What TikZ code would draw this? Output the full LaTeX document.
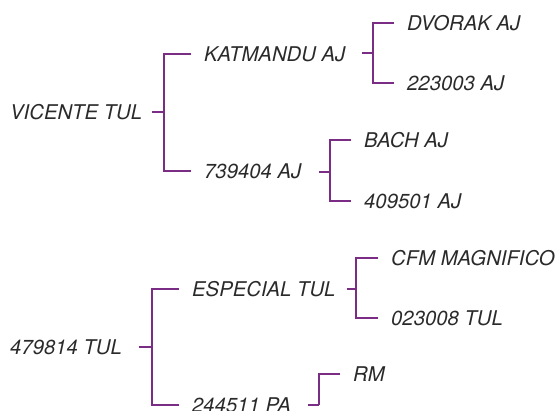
\documentclass[tikz,border=0pt]{standalone}
\usepackage{fontspec}
\setmainfont{TeX Gyre Heros}
\definecolor{brkcol}{HTML}{7B2C85}
\definecolor{txtcol}{HTML}{2A2A2A}
\begin{document}
\begin{tikzpicture}[x=1pt,y=-1pt,
  lbl/.style={anchor=west,inner sep=0pt,text=txtcol,font=\fontsize{20.3}{24}\selectfont\itshape,text height=14.6pt,text depth=0pt},
  brk/.style={draw=brkcol,line width=1.6pt},
  stubline/.style={draw=brkcol,line width=2.6pt}]
\useasboundingbox (0,0) rectangle (558,411);
% nodes
\node[lbl] (vic) at (10,112) {VICENTE TUL};
\node[lbl] (kat) at (204,54) {KATMANDU AJ};
\node[lbl] (n739) at (204,171) {739404 AJ};
\node[lbl] (dvo) at (407,23) {DVORAK AJ};
\node[lbl] (n223) at (407,83) {223003 AJ};
\node[lbl] (bach) at (364,140) {BACH AJ};
\node[lbl] (n409) at (364,201) {409501 AJ};
\node[lbl] (n479) at (10,347) {479814 TUL};
\node[lbl] (esp) at (192,289) {ESPECIAL TUL};
\node[lbl] (n244) at (192,405) {244511 PA};
\node[lbl] (cfm) at (391,258) {CFM MAGNIFICO};
\node[lbl] (n023) at (391,318) {023008 TUL};
\node[lbl] (rm) at (353,374) {RM};
% junctions
\coordinate (j1) at (164,112);
\coordinate (j2) at (373,53);
\coordinate (j3) at (330,172);
\coordinate (j4) at (152,347);
\coordinate (j5) at (356,289);
\coordinate (j6) at (319,405);
% brackets
\draw[brk] ([xshift=-13pt]kat.west) -| (j1) |- ([xshift=-13pt]n739.west);
\draw[stubline] ([xshift=-12pt]j1) -- (j1);
\draw[brk] ([xshift=-13pt]dvo.west) -| (j2) |- ([xshift=-13pt]n223.west);
\draw[stubline] ([xshift=-11pt]j2) -- (j2);
\draw[brk] ([xshift=-13pt]bach.west) -| (j3) |- ([xshift=-13pt]n409.west);
\draw[stubline] ([xshift=-11pt]j3) -- (j3);
\draw[brk] ([xshift=-13pt]esp.west) -| (j4) |- ([xshift=-13pt]n244.west);
\draw[stubline] ([xshift=-13pt]j4) -- (j4);
\draw[brk] ([xshift=-13pt]cfm.west) -| (j5) |- ([xshift=-13pt]n023.west);
\draw[stubline] ([xshift=-9pt]j5) -- (j5);
\draw[brk] ([xshift=-13pt]rm.west) -| (j6);
\draw[stubline] ([xshift=-11pt]j6) -- (j6);
\end{tikzpicture}
\end{document}
